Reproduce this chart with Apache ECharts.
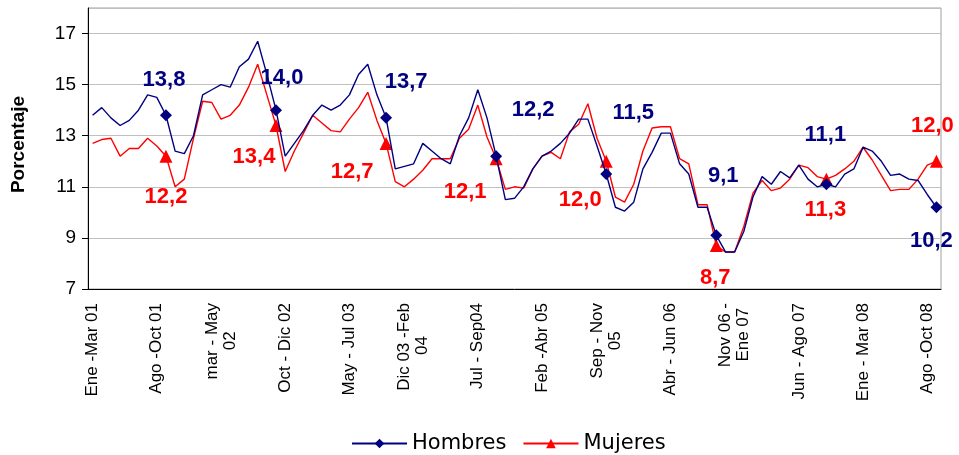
<!DOCTYPE html>
<html><head><meta charset="utf-8">
<script src="https://cdn.jsdelivr.net/npm/echarts@6/dist/echarts.min.js"></script>
<style>html,body{margin:0;padding:0;background:#fff}#c{width:959px;height:455px}</style>
</head><body><div id="c"></div>
<script>
const months = ['Ene','Feb','Mar','Abr','May','Jun','Jul','Ago','Sep','Oct','Nov','Dic'];
const tickLabels = ['Ene -Mar 01','Ago -Oct 01','mar - May\n02','Oct - Dic 02','May - Jul 03','Dic 03 -Feb\n04','Jul - Sep04','Feb -Abr 05','Sep - Nov\n05','Abr - Jun 06','Nov 06 -\nEne 07','Jun - Ago 07','Ene - Mar 08','Ago -Oct 08'];
const hombres = [13.8,14.1,13.7,13.4,13.6,14.0,14.6,14.5,13.8,12.4,12.3,13.0,14.6,14.8,15.0,14.9,
  15.7,16.0,16.7,15.4,14.0,12.2,12.7,13.2,13.8,14.2,14.0,14.2,14.6,15.4,15.8,14.6,
  13.7,11.7,11.8,11.9,12.7,12.4,12.1,11.9,13.0,13.7,14.8,13.7,12.2,10.5,10.55,11.0,
  11.7,12.2,12.4,12.7,13.1,13.65,13.65,12.6,11.5,10.2,10.05,10.4,11.7,12.35,13.1,13.1,
  11.9,11.5,10.2,10.2,9.1,8.45,8.45,9.25,10.6,11.4,11.1,11.6,11.35,11.85,11.3,11.0,
  11.1,11.0,11.5,11.7,12.55,12.4,12.0,11.45,11.5,11.3,11.25,10.7,10.2];
const mujeres = [12.7,12.85,12.9,12.2,12.5,12.5,12.9,12.6,12.2,11.0,11.3,12.9,14.35,14.3,13.65,13.8,
  14.2,14.9,15.8,14.6,13.4,11.6,12.4,13.1,13.8,13.5,13.2,13.15,13.65,14.1,14.7,13.6,
  12.7,11.2,11.0,11.3,11.65,12.1,12.1,12.1,12.9,13.25,14.2,12.95,12.1,10.9,11.0,10.95,
  11.7,12.2,12.35,12.1,13.15,13.45,14.25,12.9,12.0,10.6,10.4,11.1,12.4,13.3,13.35,13.35,
  12.1,11.9,10.3,10.3,8.7,8.45,8.45,9.45,10.75,11.25,10.85,10.95,11.3,11.85,11.75,11.4,
  11.3,11.45,11.7,12.0,12.55,12.05,11.45,10.85,10.9,10.9,11.3,11.85,12.0];
const markerIdx = [8,20,32,44,56,68,80,92];
const hombresLabelOffset = [[-2,-35],[6,-32],[20,-36],[37,-46],[27,-61],[7,-59],[-1,-49],[-5,34]];
const mujeresLabelOffset = [[0,41],[-22,31],[-34,29],[-31,33],[-26,39],[-1,32],[-1,31],[-4,-35]];

const categories = hombres.map((_, i) => {
  const m = i % 12, y = 1 + Math.floor(i / 12);
  const m2 = (i + 2) % 12, y2 = 1 + Math.floor((i + 2) / 12);
  const yy = n => String(n).padStart(2, '0');
  return y === y2 ? months[m] + '-' + months[m2] + ' ' + yy(y) : months[m] + ' ' + yy(y) + '-' + months[m2] + ' ' + yy(y2);
});

const FONT = 'Liberation Sans, Arial, sans-serif';
const XFS = 17;
const ctx = document.createElement('canvas').getContext('2d');
ctx.font = XFS + 'px ' + FONT;
function centerLines(s) {
  const lines = s.split('\n');
  if (lines.length < 2) return s;
  const ws = lines.map(l => ctx.measureText(l).width);
  const maxW = Math.max(...ws);
  const sp = ctx.measureText('\u00a0').width;
  return lines.map((l, k) => l + '\u00a0'.repeat(Math.round((maxW - ws[k]) / 2 / sp))).join('\n');
}

function buildData(values, color, offsets, symbol) {
  return values.map((v, i) => {
    const k = markerIdx.indexOf(i);
    if (k < 0) return { value: v, symbol: 'none' };
    return {
      value: v, symbol: symbol,
      label: {
        show: true, position: 'inside', offset: offsets[k],
        formatter: p => p.value.toFixed(1).replace('.', ','),
        color: color, fontSize: 22, fontWeight: 'bold', fontFamily: FONT
      }
    };
  });
}

const chart = echarts.init(document.getElementById('c'), null, { renderer: 'canvas' });
chart.setOption({
  animation: false,
  backgroundColor: '#fff',
  grid: { left: 88, right: 18, top: 8, bottom: 166, show: true, borderColor: '#a0a0a0', borderWidth: 1 },
  legend: {
    left: 346, top: 428, itemWidth: 55, itemHeight: 12, itemGap: 16,
    textStyle: { fontSize: 21, fontFamily: 'DejaVu Sans, sans-serif', color: '#000' },
    data: ['Hombres', 'Mujeres']
  },
  xAxis: {
    type: 'category', data: categories, boundaryGap: true,
    axisLine: { lineStyle: { color: '#000', width: 1 } },
    axisTick: { interval: 0, length: 5, lineStyle: { color: '#000' } },
    axisLabel: {
      interval: 6, rotate: 90, margin: 14, fontSize: XFS, fontFamily: FONT, color: '#000', lineHeight: 18,
      formatter: (val, idx) => centerLines(tickLabels[Math.round(idx / 7)] || '')
    },
    splitLine: { show: false }
  },
  yAxis: {
    type: 'value', min: 7, max: 18, interval: 2,
    name: 'Porcentaje', nameLocation: 'middle', nameGap: 60, nameRotate: 90,
    nameTextStyle: { fontSize: 19, fontWeight: 'bold', fontFamily: FONT, color: '#000', padding: [0, 0, 0, 8] },
    axisLine: { show: true, lineStyle: { color: '#000' } },
    axisTick: { show: true, length: 6, lineStyle: { color: '#000' } },
    axisLabel: { fontSize: 19, fontFamily: FONT, color: '#000', margin: 12, showMaxLabel: false },
    splitLine: { show: true, lineStyle: { color: '#c0c0c0', width: 1 } }
  },
  series: [
    {
      name: 'Hombres', type: 'line', symbol: 'diamond', symbolSize: 12, showAllSymbol: true,
      lineStyle: { color: '#000080', width: 1.4 }, itemStyle: { color: '#000080' },
      data: buildData(hombres, '#000080', hombresLabelOffset, 'diamond'), z: 3
    },
    {
      name: 'Mujeres', type: 'line', symbol: 'triangle', symbolSize: 13, showAllSymbol: true,
      lineStyle: { color: '#ff0000', width: 1.4 }, itemStyle: { color: '#ff0000' },
      data: buildData(mujeres, '#ff0000', mujeresLabelOffset, 'triangle'), z: 2
    }
  ]
});
</script></body></html>
